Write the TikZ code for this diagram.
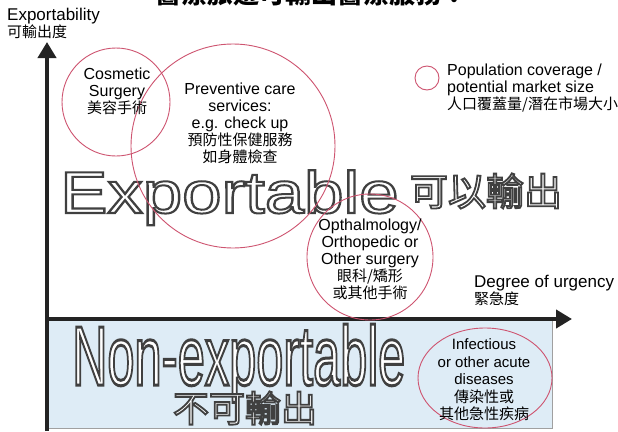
\documentclass[tikz,border=0pt]{standalone}
\usepackage{fontspec}
\setmainfont{Liberation Sans}
\newfontfamily\cjk{Noto Sans CJK TC}
\usetikzlibrary{arrows.meta,shapes.geometric}
\definecolor{ringc}{RGB}{206,84,112}
\definecolor{axisc}{RGB}{35,35,35}
\definecolor{paleblue}{RGB}{222,236,246}
\definecolor{rimgray}{RGB}{160,160,160}
\newcommand\zh[1]{{\cjk\fontsize{15}{17}\selectfont #1}}
% outlined text: white fill, gray stroke (text render mode 2)
\newcommand\olt[2][2]{{\color{white}\special{pdf:code 0.25 G 2 Tr #1 w}#2\special{pdf:code 0 Tr}}}
\begin{document}
\begin{tikzpicture}[x=1pt,y=-1pt,
  ring/.style={draw=ringc, line width=0.9pt, circle, inner sep=0pt},
  lbl/.style={align=center, font=\fontsize{16}{17}\selectfont, inner sep=0pt},
  axisline/.style={draw=axisc, line width=4pt, -{Triangle[width=18pt,length=16pt]}},
  big/.style={inner sep=0pt}]
\useasboundingbox (0,0) rectangle (618,431);
\fill[white] (0,0) rectangle (618,431);

% pale blue band
\node[fill=paleblue, minimum width=505pt, minimum height=107pt, anchor=north west, inner sep=0pt] (band) at (47,321) {};
\draw[rimgray, line width=1pt] (band.south west) -- (band.south east) -- (band.north east);

% title (cut off at the top edge)
\begin{scope}
\clip (0,0) rectangle (618,431);
\node[anchor=base, inner sep=0pt, font=\cjk\bfseries\fontsize{26}{26}\selectfont] (title) at (311,4) {醫療旅遊可輸出醫療服務：};
\end{scope}

% big outlined words
\node[big, anchor=base west] (exp) at (60,213) {\fontsize{59}{59}\selectfont\scalebox{1.2}[1]{\olt{Exportable}}};
\node[big] (kyi) at (486,191) {\cjk\fontsize{38}{38}\selectfont\olt[1.8]{可以輸出}};
\node[big, anchor=base west] (nonexp) at (72,385) {\fontsize{84}{84}\selectfont\scalebox{0.58}[1]{\olt[3]{Non-exportable}}};
\node[big] (bky) at (245,408) {\cjk\fontsize{36}{36}\selectfont\olt[1.8]{不可輸出}};

% axes
\coordinate (ybot) at (47,431);
\coordinate (ytop) at (47,42);
\coordinate (xo) at (45,319);
\coordinate (xend) at (572,319);
\draw[axisline] (ybot) -- (ytop);
\draw[axisline] (xo) -- (xend);

% circles
\node[ring, minimum size=108pt] (c1) at (116,102) {};
\node[ring, minimum size=204pt] (c2) at (233,146) {};
\node[ring, minimum size=126pt] (c3) at (370,257) {};
\node[ring, ellipse, minimum width=134pt, minimum height=100pt] (c4) at (485,378) {};
\node[ring, minimum size=24pt] (leg) at (427,78) {};

% texts
\node[lbl] (t1) at (117,91) {Cosmetic\\Surgery\\\zh{美容手術}};
\node[lbl] (t2) at (240,123) {Preventive care\\services:\\e.g. check up\\\zh{預防性保健服務}\\\zh{如身體檢查}};
\node[lbl] (t3) at (370,259) {Opthalmology/\\Orthopedic or\\Other surgery\\\zh{眼科/矯形}\\\zh{或其他手術}};
\node[lbl, font=\fontsize{15}{17.5}\selectfont] (t4) at (484,380) {Infectious\\or other acute\\diseases\\\zh{傳染性或}\\\zh{其他急性疾病}};
\node[lbl, align=left, anchor=west] (t5) at (447,88) {Population coverage /\\potential market size\\\zh{人口覆蓋量/潛在市場大小}};
\node[lbl, align=left, anchor=west, font=\fontsize{17}{17}\selectfont] (xl) at (474,290) {Degree of urgency\\\zh{緊急度}};
\node[lbl, align=left, anchor=west, font=\fontsize{17}{17}\selectfont] (yl) at (7,23) {Exportability\\\zh{可輸出度}};
\end{tikzpicture}
\end{document}
